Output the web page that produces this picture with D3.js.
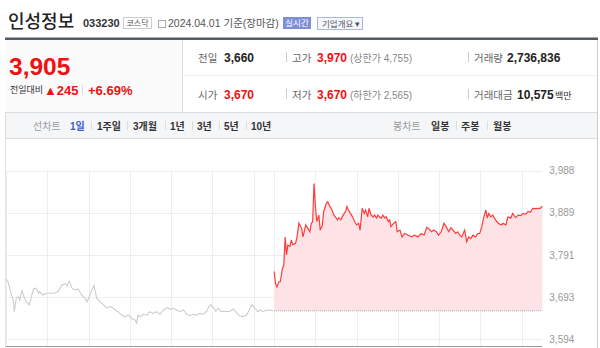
<!DOCTYPE html>
<html>
<head>
<meta charset="utf-8">
<script src="https://cdn.jsdelivr.net/npm/d3@7"></script>
<style>
  body { margin: 0; background: #fff; }
  svg { display: block; font-family: "Liberation Sans", "Noto Sans CJK KR", sans-serif; }
</style>
</head>
<body>
<div id="chart"></div>
<script>
const width = 600;
const height = 348;

// previous session (gray), minutes after 09:00
const prevMinutes = [0, 3, 6, 11, 12, 15, 18, 20, 23, 26, 30, 34, 37, 40, 44, 47, 49, 53, 59, 69, 76, 81, 86, 89, 92, 96, 100, 105, 110, 115, 118, 122, 126, 128, 132, 137, 142, 146, 153, 159, 163, 168, 173, 178, 183, 188, 190,
  192, 195, 200, 205, 209, 214, 219, 224, 229, 234, 239, 243, 248, 253, 258, 263, 268, 272, 277, 282, 287, 292, 295, 298, 302, 305, 309, 313, 316, 321, 326, 331, 336, 340, 345, 350, 355, 358, 362, 366, 370, 374, 379, 385, 389];
const prevPrices = [3734, 3728, 3709, 3681, 3658, 3690, 3693, 3685, 3709, 3693, 3681, 3674, 3693, 3711, 3713, 3701, 3705, 3697, 3701, 3701, 3705, 3720, 3724, 3718, 3730, 3713, 3709, 3711, 3697, 3689, 3681, 3697, 3713, 3719, 3689, 3681, 3674, 3667, 3670, 3662, 3658, 3650, 3646, 3650, 3642, 3638, 3631,
  3650, 3646, 3652, 3650, 3658, 3654, 3658, 3652, 3662, 3667, 3664, 3666, 3662, 3658, 3662, 3652, 3649, 3652, 3650, 3654, 3652, 3659, 3670, 3674, 3667, 3659, 3666, 3658, 3659, 3658, 3659, 3664, 3654, 3648, 3646, 3650, 3666, 3674, 3666, 3658, 3662, 3658, 3662, 3661, 3660];

// today's session (red), minutes after 09:00
const todayMinutes = [0, 2, 4, 7, 9, 12, 14, 16, 18, 20, 23, 25, 27, 31, 33, 36, 40, 42, 46, 49, 52, 54, 56, 58, 60, 62, 65, 67, 70, 72, 76, 78, 81, 83, 87, 89, 92, 94, 97, 99, 102, 104, 106, 108, 111, 114, 117, 120, 123, 125, 128, 131, 133, 136, 138, 141, 144, 146, 149, 151, 153, 156, 158, 161, 163, 166, 168, 170, 174, 177, 179, 183, 186, 190,
  195, 200, 204, 209, 214, 218, 222, 225, 229, 232, 236, 239, 243, 247, 250, 254, 257, 260, 264, 267, 270, 273, 277, 280, 283, 286, 289, 293, 296, 299, 302, 305, 308, 310, 312, 315, 318, 322, 326, 330, 333, 337, 340, 344, 347, 351, 355, 359, 362, 366, 369, 373, 376, 380, 384, 387, 390];
const todayPrices = [3752, 3724, 3716, 3728, 3728, 3759, 3766, 3833, 3791, 3814, 3811, 3826, 3815, 3818, 3830, 3865, 3853, 3833, 3861, 3853, 3845, 3865, 3868, 3958, 3904, 3869, 3884, 3849, 3860, 3892, 3912, 3915, 3904, 3900, 3884, 3880, 3873, 3878, 3873, 3880, 3888, 3893, 3904, 3896, 3888, 3880, 3869, 3861, 3865, 3849, 3900, 3888, 3896, 3880, 3900, 3884, 3880, 3884, 3877, 3884, 3880, 3877, 3884, 3877, 3880, 3869, 3873, 3857, 3865, 3869, 3845, 3849, 3833, 3841,
  3837, 3833, 3837, 3833, 3841, 3837, 3855, 3852, 3845, 3849, 3845, 3837, 3845, 3865, 3857, 3845, 3855, 3849, 3841, 3845, 3837, 3833, 3849, 3822, 3833, 3829, 3837, 3833, 3841, 3841, 3857, 3880, 3896, 3877, 3888, 3880, 3884, 3873, 3865, 3861, 3865, 3861, 3880, 3877, 3888, 3878, 3884, 3883, 3888, 3886, 3892, 3891, 3900, 3899, 3900, 3900, 3905];

const prevClose = 3660;
const yMin = 3594;
const yMax = 3988;
const yTickLabels = ["3,594", "3,693", "3,791", "3,889", "3,988"];

const svg = d3.select('#chart').append('svg')
  .attr('width', width)
  .attr('height', height);

// ---------- header ----------
svg.append('text').attr('x', 8).attr('y', 28)
  .attr('font-family', '"Noto Sans CJK KR"').attr('font-size', 18).attr('font-weight', 500)
  .attr('fill', '#222').text('인성정보');
svg.append('text').attr('x', 83).attr('y', 27)
  .attr('font-size', 11).attr('font-weight', 'bold').attr('fill', '#333').text('033230');

svg.append('rect').attr('x', 123.5).attr('y', 17.5).attr('width', 28).attr('height', 11)
  .attr('fill', '#fff').attr('stroke', '#ccc');
svg.append('text').attr('x', 137.5).attr('y', 26).attr('text-anchor', 'middle')
  .attr('font-family', '"Noto Sans CJK KR"').attr('font-size', 8).attr('fill', '#555').text('코스닥');

svg.append('rect').attr('x', 158.5).attr('y', 20.5).attr('width', 7).attr('height', 7)
  .attr('fill', '#fff').attr('stroke', '#aaa');
svg.append('text').attr('x', 168).attr('y', 27)
  .attr('font-size', 10.5).attr('fill', '#555').text('2024.04.01 기준(장마감)');

svg.append('rect').attr('x', 283).attr('y', 17).attr('width', 28).attr('height', 12).attr('fill', '#7e8fd6');
svg.append('text').attr('x', 297).attr('y', 26).attr('text-anchor', 'middle')
  .attr('font-family', '"Noto Sans CJK KR"').attr('font-size', 8.5).attr('fill', '#fff').text('실시간');

svg.append('rect').attr('x', 317.5).attr('y', 17.5).attr('width', 45).attr('height', 12)
  .attr('fill', '#f5f7ff').attr('stroke', '#a9b6e2');
svg.append('text').attr('x', 322).attr('y', 26.5)
  .attr('font-family', '"Noto Sans CJK KR"').attr('font-size', 8.5).attr('fill', '#555').text('기업개요 ▾');

// ---------- summary panel ----------
svg.append('rect').attr('x', 5).attr('y', 37.5).attr('width', 593).attr('height', 2.5).attr('fill', '#555a61');
svg.append('rect').attr('x', 5.5).attr('y', 40).attr('width', 177).attr('height', 72).attr('fill', '#fbfbfb');
svg.append('line').attr('x1', 182.5).attr('x2', 182.5).attr('y1', 40).attr('y2', 112).attr('stroke', '#ddd');
svg.append('line').attr('x1', 183).attr('x2', 597).attr('y1', 75.5).attr('y2', 75.5).attr('stroke', '#eee');

svg.append('text').attr('x', 9).attr('y', 75)
  .attr('font-size', 24.5).attr('font-weight', 'bold').attr('fill', '#f01010').text('3,905');
svg.append('text').attr('x', 10).attr('y', 93)
  .attr('font-family', '"Noto Sans CJK KR"').attr('font-size', 9).attr('fill', '#333').text('전일대비');
svg.append('text').attr('x', 44).attr('y', 95)
  .attr('font-size', 13).attr('font-weight', 'bold').attr('fill', '#f01010').text('▲245');
svg.append('line').attr('x1', 82.5).attr('x2', 82.5).attr('y1', 85).attr('y2', 95).attr('stroke', '#ddd');
svg.append('text').attr('x', 88).attr('y', 95)
  .attr('font-size', 13).attr('font-weight', 'bold').attr('fill', '#f01010').text('+6.69%');

const rows = [
  [{ x: 198, t: '전일', c: '#666', s: 10.5, f: 'k' }, { x: 224, t: '3,660', c: '#222', s: 12, b: 1 },
   { x: 292, t: '고가', c: '#666', s: 10.5, f: 'k' }, { x: 317, t: '3,970', c: '#f01010', s: 12, b: 1 },
   { x: 350, t: '(상한가 4,755)', c: '#888', s: 10 },
   { x: 474, t: '거래량', c: '#666', s: 10.5, f: 'k' }, { x: 507, t: '2,736,836', c: '#222', s: 12, b: 1 }],
  [{ x: 198, t: '시가', c: '#666', s: 10.5, f: 'k' }, { x: 224, t: '3,670', c: '#f01010', s: 12, b: 1 },
   { x: 292, t: '저가', c: '#666', s: 10.5, f: 'k' }, { x: 317, t: '3,670', c: '#f01010', s: 12, b: 1 },
   { x: 350, t: '(하한가 2,565)', c: '#888', s: 10 },
   { x: 474, t: '거래대금', c: '#666', s: 10.5, f: 'k' }, { x: 517, t: '10,575', c: '#222', s: 12, b: 1 },
   { x: 555, t: '백만', c: '#333', s: 9, f: 'k' }]
];
rows.forEach((r, i) => {
  const y = i === 0 ? 62 : 99;
  r.forEach(d => {
    svg.append('text').attr('x', d.x).attr('y', y)
      .attr('font-family', d.f ? '"Noto Sans CJK KR"' : null)
      .attr('font-size', d.s).attr('font-weight', d.b ? 'bold' : null)
      .attr('fill', d.c).text(d.t);
  });
  [286.5, 468.5].forEach(x => svg.append('line').attr('x1', x).attr('x2', x)
    .attr('y1', y - 10).attr('y2', y).attr('stroke', '#ccc'));
});

// ---------- menu bar ----------
svg.append('rect').attr('x', 5.5).attr('y', 112.5).attr('width', 592).attr('height', 26)
  .attr('fill', '#f5f6f8').attr('stroke', '#dcdcdc');

const menuLeft = [
  { x: 33, t: '선차트', c: '#999', w: 'normal' }, { x: 70, t: '1일', c: '#3b5cc4', w: 'bold' },
  { x: 97, t: '1주일', c: '#333', w: 'bold' }, { x: 133, t: '3개월', c: '#333', w: 'bold' },
  { x: 170, t: '1년', c: '#333', w: 'bold' }, { x: 197, t: '3년', c: '#333', w: 'bold' },
  { x: 224, t: '5년', c: '#333', w: 'bold' }, { x: 251, t: '10년', c: '#333', w: 'bold' },
  { x: 393, t: '봉차트', c: '#999', w: 'normal' }, { x: 431, t: '일봉', c: '#333', w: 'bold' },
  { x: 461, t: '주봉', c: '#333', w: 'bold' }, { x: 493, t: '월봉', c: '#333', w: 'bold' }
];
menuLeft.forEach(d => {
  svg.append('text').attr('x', d.x).attr('y', 129.5)
    .attr('font-size', 10).attr('font-weight', d.w).attr('fill', d.c).text(d.t);
});
[91.5, 127.5, 165.5, 192.5, 219.5, 246.5, 456.5, 487.5].forEach(x =>
  svg.append('line').attr('x1', x).attr('x2', x).attr('y1', 121).attr('y2', 130).attr('stroke', '#ddd'));

// ---------- chart ----------
svg.append('line').attr('x1', 5.5).attr('x2', 5.5).attr('y1', 138).attr('y2', 348).attr('stroke', '#e4e4e4');
svg.append('line').attr('x1', 597.5).attr('x2', 597.5).attr('y1', 40).attr('y2', 348).attr('stroke', '#ccc');

const x = d3.scaleLinear().domain([0, 780]).range([6, 542.3]);
const y = d3.scaleLinear().domain([yMin, yMax]).range([339, 170.7]);

const yTicks = d3.range(5).map(i => yMin + i * (yMax - yMin) / 4);
const xTicks = d3.range(0, 361, 60).concat(d3.range(390, 751, 60));

svg.append('g').selectAll('line').data(yTicks).join('line')
  .attr('x1', x(0)).attr('x2', x(780))
  .attr('y1', d => Math.round(y(d)) + 0.5).attr('y2', d => Math.round(y(d)) + 0.5)
  .attr('stroke', '#eeeeee');
svg.append('g').selectAll('line').data(xTicks).join('line')
  .attr('x1', d => Math.round(x(d)) + 0.5).attr('x2', d => Math.round(x(d)) + 0.5)
  .attr('y1', y(yMax)).attr('y2', 346)
  .attr('stroke', '#eeeeee');

const yAxis = svg.append('g')
  .attr('transform', `translate(${x(780)},0)`)
  .call(d3.axisRight(y).tickValues(yTicks).tickSize(0).tickPadding(7)
    .tickFormat((d, i) => yTickLabels[i]));
yAxis.select('.domain').remove();
yAxis.selectAll('text').attr('fill', '#999').attr('font-size', 10)
  .attr('font-family', '"Liberation Sans", sans-serif');

svg.append('line').attr('x1', 6).attr('x2', x(780)).attr('y1', 346.5).attr('y2', 346.5)
  .attr('stroke', '#999');

const prevData = prevMinutes.map((m, i) => ({ m: m, v: prevPrices[i] }));
const todayData = todayMinutes.map((m, i) => ({ m: m + 390, v: todayPrices[i] }));

svg.append('path').datum(todayData)
  .attr('fill', '#fde3e5')
  .attr('d', d3.area().x(d => x(d.m)).y0(y(prevClose)).y1(d => y(d.v)));

svg.append('line').attr('x1', x(390)).attr('x2', x(780))
  .attr('y1', y(prevClose)).attr('y2', y(prevClose))
  .attr('stroke', '#aaa').attr('stroke-dasharray', '1,1');

const line = d3.line().x(d => x(d.m)).y(d => y(d.v));

svg.append('path').datum(prevData)
  .attr('fill', 'none').attr('stroke', '#cdcdcd').attr('stroke-width', 1.1)
  .attr('d', line);

svg.append('path').datum(todayData)
  .attr('fill', 'none').attr('stroke', '#ff3b3b').attr('stroke-width', 1.2)
  .attr('d', line);
</script>
</body>
</html>
